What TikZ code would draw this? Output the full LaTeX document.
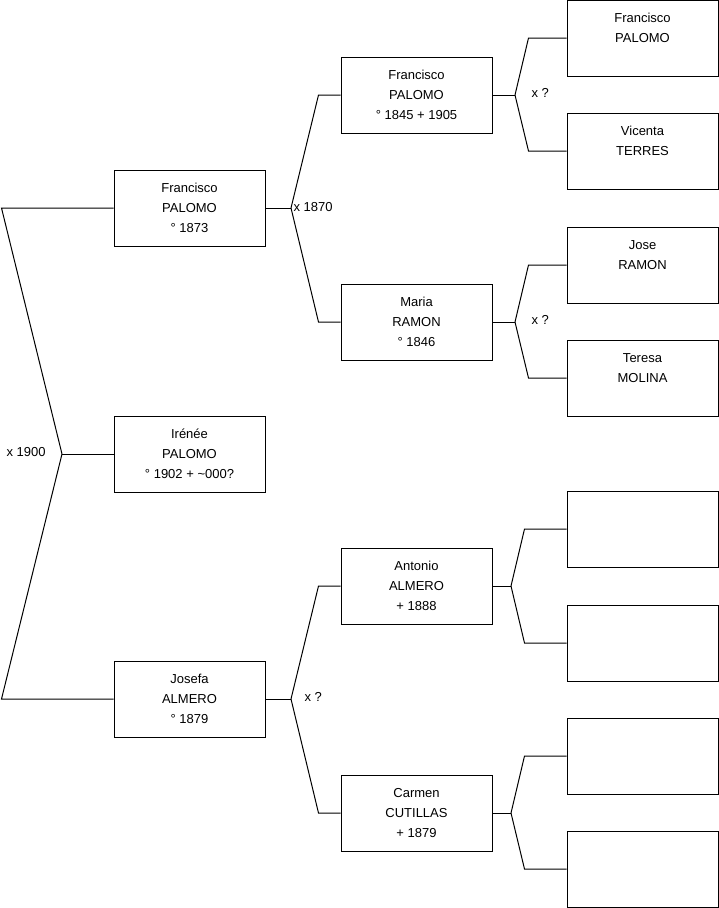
\documentclass[tikz,border=0pt]{standalone}
\usepackage{fontspec}
\setmainfont{Liberation Sans}
\newcommand{\who}[3]{#1\strut\\#2\strut\\#3\strut}

\begin{document}
\begin{tikzpicture}[x=1pt, y=-1pt, line width=1pt,
  person/.style={draw, minimum width=151pt, minimum height=76pt, inner sep=0pt,
    align=center, font=\fontsize{13}{20}\selectfont},
  wed/.style={anchor=west, inner sep=0pt, font=\fontsize{13}{20}\selectfont}]
  \useasboundingbox (0,0) rectangle (719,908);

  \node[person] (fran1) at (189.5, 208) {\who{Francisco}{PALOMO}{° 1873}};
  \node[person] (irenee) at (189.5, 454) {\who{Irénée}{PALOMO}{° 1902 + \char`~000?}};
  \node[person] (josefa) at (189.5, 699) {\who{Josefa}{ALMERO}{° 1879}};

  \node[person] (fran2) at (416.5, 95) {\who{Francisco}{PALOMO}{° 1845 + 1905}};
  \node[person] (maria) at (416.5, 322) {\who{Maria}{RAMON}{° 1846}};
  \node[person] (antonio) at (416.5, 586) {\who{Antonio}{ALMERO}{+ 1888}};
  \node[person] (carmen) at (416.5, 813) {\who{Carmen}{CUTILLAS}{+ 1879}};

  \node[person] (fran3) at (642.5, 38) {\who{Francisco}{PALOMO}{}};
  \node[person] (vicenta) at (642.5, 151) {\who{Vicenta}{TERRES}{}};
  \node[person] (jose) at (642.5, 265) {\who{Jose}{RAMON}{}};
  \node[person] (teresa) at (642.5, 378) {\who{Teresa}{MOLINA}{}};
  \node[person] (e1) at (642.5, 529) {};
  \node[person] (e2) at (642.5, 643) {};
  \node[person] (e3) at (642.5, 756) {};
  \node[person] (e4) at (642.5, 869) {};

  \coordinate (m1) at (62, 454);
  \coordinate (m2) at (291, 208);
  \coordinate (m3) at (291, 699);
  \coordinate (m4) at (515, 95);
  \coordinate (m5) at (515, 322);
  \coordinate (m6) at (511, 586);
  \coordinate (m7) at (511, 813);

  \draw (irenee.west) -- (m1);
  \draw (fran1.west) -- ++(-112, 0) -- (m1);
  \draw (josefa.west) -- ++(-112, 0) -- (m1);
  \node[wed] (w1) at (6, 452) {x 1900};

  \draw (fran1.east) -- (m2);
  \draw (fran2.west) -- ++(-22, 0) -- (m2);
  \draw (maria.west) -- ++(-22, 0) -- (m2);
  \node[wed] (w2) at (293, 207) {x 1870};

  \draw (josefa.east) -- (m3);
  \draw (antonio.west) -- ++(-22, 0) -- (m3);
  \draw (carmen.west) -- ++(-22, 0) -- (m3);
  \node[wed] (w3) at (304, 697) {x ?};

  \draw (fran2.east) -- (m4);
  \draw (fran3.west) -- ++(-38, 0) -- (m4);
  \draw (vicenta.west) -- ++(-38, 0) -- (m4);
  \node[wed] (w4) at (531, 93) {x ?};

  \draw (maria.east) -- (m5);
  \draw (jose.west) -- ++(-38, 0) -- (m5);
  \draw (teresa.west) -- ++(-38, 0) -- (m5);
  \node[wed] (w5) at (531, 320) {x ?};

  \draw (antonio.east) -- (m6);
  \draw (e1.west) -- ++(-42, 0) -- (m6);
  \draw (e2.west) -- ++(-42, 0) -- (m6);

  \draw (carmen.east) -- (m7);
  \draw (e3.west) -- ++(-42, 0) -- (m7);
  \draw (e4.west) -- ++(-42, 0) -- (m7);
\end{tikzpicture}
\end{document}
